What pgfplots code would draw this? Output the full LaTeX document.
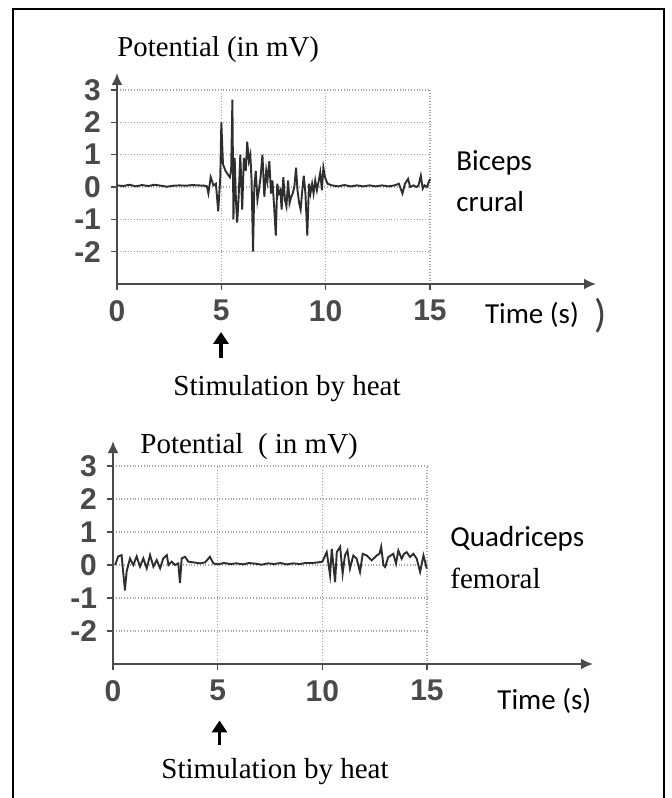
\documentclass[border=0pt]{standalone}
\usepackage{fontspec}
\setmainfont{Liberation Serif}
\newfontfamily\calibri{Carlito}
\newfontfamily\arial{Liberation Sans}
\usepackage{pgfplots}
\pgfplotsset{compat=1.18}
\usetikzlibrary{arrows.meta}
\definecolor{trace}{HTML}{2E2E2E}
\definecolor{axgray}{HTML}{4A4A4A}
\definecolor{labgray}{HTML}{4A4A4A}

\pgfplotsset{emg/.style={
  scale only axis, axis lines=left,
  xmin=0, xmax=15, ymin=-3, ymax=3,
  xtick={0,5,10,15}, xticklabels={0,5,10,15},
  ytick={-2,-1,0,1,2,3}, yticklabels={-2,-1,0,1,2,3},
  grid=major, grid style={densely dotted, gray!70, line width=0.6pt},
  tick align=outside, major tick length=3pt,
  tick style={axgray, line width=0.8pt},
  axis line style={axgray, line width=1.1pt},
  ticklabel style={font=\arial\bfseries\fontsize{15}{15}\selectfont, text=labgray},
  yticklabel style={xshift=-1.5pt},
  xticklabel style={yshift=-1.5pt},
  clip=false,
}}

\begin{document}
\begin{tikzpicture}
\useasboundingbox (0pt,0pt) rectangle (336pt,399pt);
% frame
\draw[line width=1pt] (6.5pt,0pt) -- (6.5pt,394.5pt) -- (332pt,394.5pt) -- (332pt,0pt);

% ---- Biceps crural ----
\begin{axis}[emg, at={(58.5pt,257pt)}, anchor=south west,
  width=156.5pt, height=97pt,
  x axis line style={-{Latex[length=6pt,width=5.5pt]}, shorten >=-83pt},
  y axis line style={-{Latex[length=6pt,width=5.5pt]}, shorten >=-8.5pt}]
\addplot[trace, line width=0.95pt, mark=none] coordinates {
  (0,0.05) (0.3,0.03) (0.6,0.07) (0.9,0.02) (1.2,0.06) (1.5,0.03) (1.8,0.07)
  (2.1,0.04) (2.4,0.01) (2.7,0.04) (3.0,0.05) (3.3,0.04) (3.6,0.06) (3.9,0.05)
  (4.2,0.04) (4.31,0.02) (4.38,-0.2) (4.49,0.3) (4.62,0.05) (4.74,0.1)
  (4.85,-0.75) (4.95,0.3) (5.0,2.0) (5.08,0.7) (5.2,0.5) (5.3,0.4) (5.41,0.3)
  (5.47,0.5) (5.53,2.7) (5.58,-1.0) (5.64,0.9) (5.7,-0.4) (5.76,-1.1)
  (5.83,-0.3) (5.91,1.0) (6.0,-0.7) (6.08,0.9) (6.17,0.5) (6.24,1.4)
  (6.32,0.8) (6.39,1.0) (6.45,0.2) (6.52,-2.0) (6.58,0.0) (6.65,0.5)
  (6.73,-0.4) (6.8,-0.1) (6.88,0.3) (6.97,1.0) (7.06,-0.3) (7.15,0.5)
  (7.21,0.2) (7.3,0.8) (7.38,-0.2) (7.45,0.2) (7.53,-0.6) (7.61,-1.5)
  (7.68,0.1) (7.76,-0.2) (7.83,-0.1) (7.89,-0.7) (7.97,0.3) (8.05,-0.4)
  (8.12,-0.6) (8.2,0.2) (8.27,-0.5) (8.35,-0.3) (8.42,-0.2) (8.5,0.0)
  (8.58,0.6) (8.65,-0.1) (8.73,-0.5) (8.8,-0.7) (8.88,-0.1) (8.95,0.35)
  (9.03,-0.2) (9.12,-1.5) (9.2,0.1) (9.27,-0.2) (9.35,0.1) (9.42,-0.2)
  (9.5,0.2) (9.58,-0.1) (9.67,0.2) (9.74,0.45) (9.82,-0.1) (9.89,0.6)
  (9.97,0.3) (10.09,0.1) (10.3,0.05) (10.6,0.02) (10.9,0.06) (11.2,0.02)
  (11.5,0.05) (11.8,0.02) (12.1,0.05) (12.4,0.02) (12.7,0.05) (13.0,0.02)
  (13.3,0.05) (13.51,0.1) (13.68,-0.2) (13.8,0.1) (13.95,0.25) (14.05,0.0)
  (14.21,0.05) (14.35,0.0) (14.45,0.05) (14.56,0.35) (14.65,-0.05)
  (14.74,0.05) (14.85,0.0) (15.0,0.25)
};
\end{axis}

% ---- Quadriceps femoral ----
\begin{axis}[emg, at={(56.5pt,67pt)}, anchor=south west,
  width=157pt, height=99pt,
  x axis line style={-{Latex[length=6pt,width=5.5pt]}, shorten >=-83pt},
  y axis line style={-{Latex[length=6pt,width=5.5pt]}, shorten >=-12.5pt}]
\addplot[trace, line width=0.95pt, mark=none] coordinates {
  (0.1,0.0) (0.25,0.26) (0.41,0.3) (0.57,-0.77) (0.65,-0.2) (0.81,0.2)
  (0.97,0.0) (1.13,0.26) (1.29,-0.05) (1.45,0.2) (1.61,-0.1) (1.77,0.3)
  (1.93,-0.05) (2.09,0.15) (2.25,-0.1) (2.4,0.2) (2.57,0.3) (2.65,0.0)
  (2.8,0.1) (2.96,0.0) (3.12,0.05) (3.2,-0.55) (3.28,0.2) (3.44,0.25)
  (3.6,0.1) (3.84,0.08) (4.16,0.05) (4.4,0.08) (4.63,0.25) (4.79,0.05)
  (5.0,0.02) (5.3,0.06) (5.6,0.03) (5.9,0.05) (6.2,0.02) (6.5,0.06)
  (6.8,0.04) (7.1,0.01) (7.4,0.05) (7.7,0.03) (8.0,0.06) (8.3,0.02)
  (8.6,0.05) (8.9,0.03) (9.2,0.06) (9.5,0.06) (9.8,0.08) (10.0,0.1)
  (10.21,0.39) (10.37,-0.31) (10.45,0.49) (10.61,-0.52) (10.69,0.39)
  (10.85,0.55) (10.97,-0.26) (11.08,0.29) (11.2,0.44) (11.32,-0.11)
  (11.48,0.29) (11.64,0.19) (11.8,-0.21) (11.93,0.34) (12.12,0.29)
  (12.36,0.14) (12.6,0.29) (12.73,0.34) (12.81,0.55) (12.92,-0.01)
  (13.0,-0.06) (13.15,0.24) (13.39,0.34) (13.52,0.04) (13.63,0.44)
  (13.79,0.19) (13.9,0.34) (14.03,0.39) (14.19,0.24) (14.35,0.34)
  (14.51,0.19) (14.67,-0.21) (14.83,0.29) (14.99,-0.11)
};
\end{axis}

% ---- texts, top ----
\node[anchor=base west, inner sep=0, font=\fontsize{14.4}{16}\selectfont] at (58.5pt,370.5pt) {Potential (in mV)};
\node[anchor=base west, inner sep=0, font=\calibri\fontsize{14.5}{16}\selectfont] at (228pt,313.5pt) {Biceps};
\node[anchor=base west, inner sep=0, font=\calibri\fontsize{14.5}{16}\selectfont] at (228pt,293pt) {crural};
\node[anchor=base west, inner sep=0, font=\calibri\fontsize{14.5}{16}\selectfont] at (242.3pt,237.3pt) {Time (s)};
\node[inner sep=0, font=\calibri\fontsize{20}{22}\selectfont, text=black!75] at (300.5pt,241pt) {)};
\draw[line width=1.6pt, -{Triangle[length=6pt,width=7.5pt]}] (110.5pt,220pt) -- (110.5pt,233pt);
\node[anchor=base west, inner sep=0, font=\fontsize{14.5}{16}\selectfont] at (86.5pt,201pt) {Stimulation by heat};

% ---- texts, bottom ----
\node[anchor=base west, inner sep=0, font=\fontsize{14.5}{16}\selectfont] at (70pt,172.3pt) {Potential\ \ ( in mV)};
\node[anchor=base west, inner sep=0, font=\calibri\fontsize{14.5}{16}\selectfont] at (225pt,125.7pt) {Quadriceps};
\node[anchor=base west, inner sep=0, font=\fontsize{14.5}{16}\selectfont] at (225pt,104.8pt) {femoral};
\node[anchor=base west, inner sep=0, font=\calibri\fontsize{14.5}{16}\selectfont] at (248.5pt,44pt) {Time (s)};
\draw[line width=1.6pt, -{Triangle[length=6pt,width=7.5pt]}] (109.75pt,26.7pt) -- (109.75pt,38.75pt);
\node[anchor=base west, inner sep=0, font=\fontsize{14.5}{16}\selectfont] at (80.5pt,9.5pt) {Stimulation by heat};
\end{tikzpicture}
\end{document}
